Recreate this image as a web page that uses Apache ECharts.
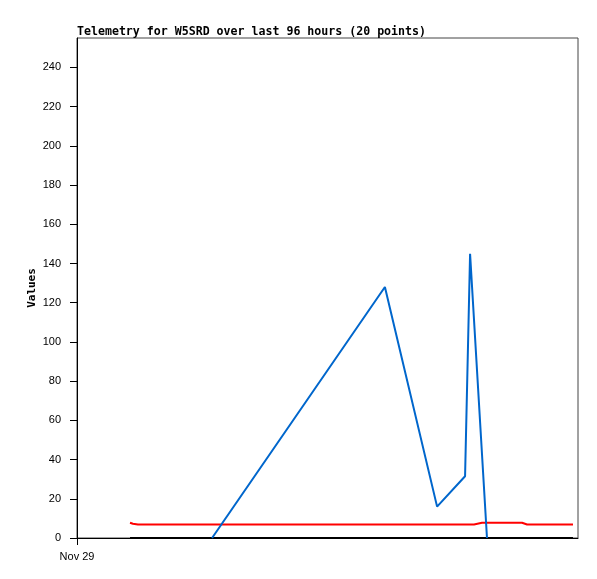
<!DOCTYPE html>
<html>
<head>
<meta charset="utf-8">
<script src="https://cdn.jsdelivr.net/npm/echarts@6/dist/echarts.min.js"></script>
<style>
html,body{margin:0;padding:0;background:#fff;}
#chart{width:597px;height:579px;}
</style>
</head>
<body>
<div id="chart"></div>
<script>
// Hours since Nov 29 00:00
const blueTimes = [6.47, 14.75, 17.25, 18.59, 18.83, 19.64];
const blueVals  = [0, 128, 16, 31.5, 145, 0];
const redTimes  = [2.54, 2.68, 2.92, 19.02, 19.40, 21.32, 21.56, 23.76];
const redVals   = [7.8, 7.3, 6.9, 6.9, 7.8, 7.8, 6.9, 6.9];
const blackTimes = [2.54, 23.76];
const blackVals  = [0, 0];
const yTicks = [0, 20, 40, 60, 80, 100, 120, 140, 160, 180, 200, 220, 240];
const xTicks = [0];
const xTickLabels = ['Nov 29'];
const yAxisTitle = 'Values';

function pairs(t, v) { return t.map((x, i) => [x, v[i]]); }

const chart = echarts.init(document.getElementById('chart'), null, {renderer: 'canvas'});
chart.setOption({
  animation: false,
  backgroundColor: '#fff',
  title: {
    text: 'Telemetry for W5SRD over last 96 hours (20 points)',
    left: 77, top: 26, padding: 0,
    textStyle: {fontFamily: 'DejaVu Sans Mono', fontWeight: 'bold', fontSize: 11.6, color: '#000'}
  },
  graphic: [{
    type: 'text', x: 32, y: 288, rotation: Math.PI / 2,
    style: {text: yAxisTitle, fontFamily: 'DejaVu Sans Mono', fontWeight: 'bold', fontSize: 11, fill: '#000', align: 'center', verticalAlign: 'middle'}
  }],
  grid: {left: 77, right: 19, top: 38, bottom: 41, show: true, borderColor: '#444', borderWidth: 1, backgroundColor: 'transparent'},
  xAxis: {
    type: 'value', min: 0, max: 24,
    axisLine: {show: true, lineStyle: {color: '#000', width: 1}},
    axisTick: {show: true, length: 7, customValues: xTicks, lineStyle: {color: '#000'}},
    axisLabel: {
      customValues: xTicks, margin: 13,
      formatter: v => xTickLabels[xTicks.indexOf(v)] || '',
      fontFamily: 'Liberation Sans', fontSize: 11, color: '#000'
    },
    splitLine: {show: false}
  },
  yAxis: {
    type: 'value', min: 0, max: 255,
    axisLine: {show: true, lineStyle: {color: '#000', width: 1}},
    axisTick: {show: true, length: 7, customValues: yTicks, lineStyle: {color: '#000'}},
    axisLabel: {customValues: yTicks, margin: 16, fontFamily: 'Liberation Sans', fontSize: 11, color: '#000'},
    splitLine: {show: false}
  },
  series: [
    {type: 'line', data: pairs(blackTimes, blackVals), showSymbol: false, lineStyle: {color: '#000', width: 2}, z: 3},
    {type: 'line', data: pairs(redTimes, redVals), showSymbol: false, lineStyle: {color: '#FF0000', width: 2}, z: 4},
    {type: 'line', data: pairs(blueTimes, blueVals), showSymbol: false, lineStyle: {color: '#0066CC', width: 2}, z: 5}
  ]
});
</script>
</body>
</html>
